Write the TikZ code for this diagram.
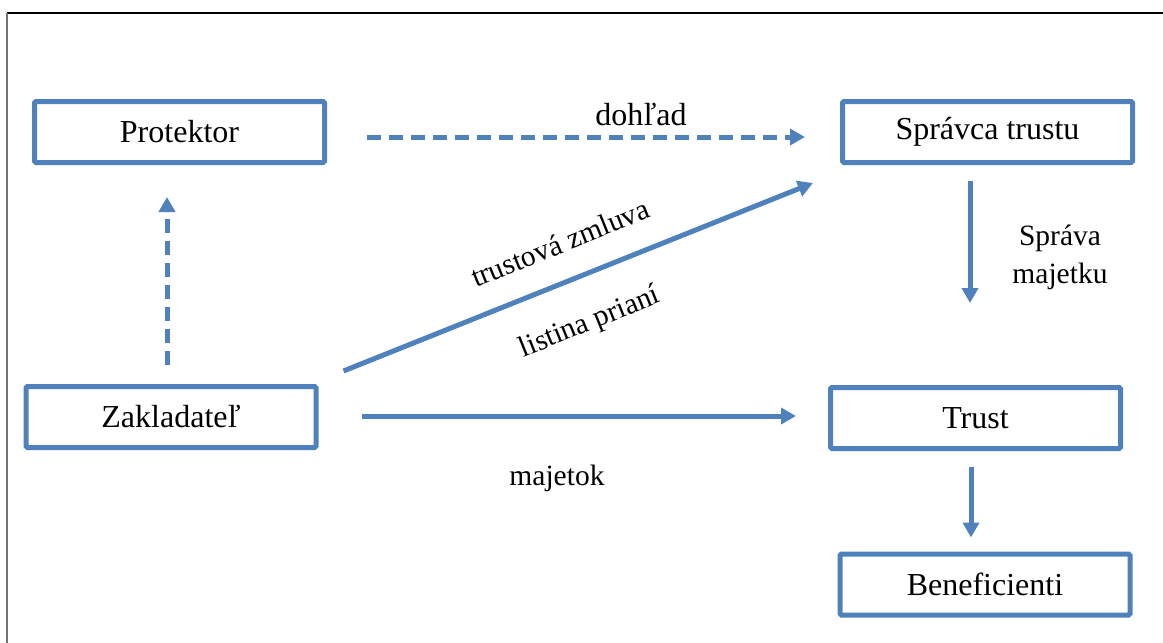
\documentclass[tikz,border=0pt]{standalone}
\usepackage{fontspec}
\setmainfont{Liberation Serif}
\usetikzlibrary{arrows.meta}
\definecolor{officeblue}{HTML}{4F81BD}
\tikzset{
  entity/.style={draw=officeblue, line width=5pt, rounded corners=1.5pt,
    minimum width=290pt, minimum height=61pt, inner sep=0pt,
    font=\fontsize{32}{36}\selectfont},
  flow/.style={draw=officeblue, line width=5pt,
    -{Triangle[length=15pt,width=16pt]}},
  flowdash/.style={flow, dash pattern=on 14pt off 8pt},
  lbl/.style={font=\fontsize{29.5}{38}\selectfont, inner sep=0pt, align=center}
}
\begin{document}
\begin{tikzpicture}[x=1pt, y=-1pt]
\useasboundingbox (0,0) rectangle (1163,643);
% page frame
\draw[black, line width=1.2pt] (7,13) -- (1163,13);
\draw[black!55, line width=1.6pt] (7,13) -- (7,643);

% parties
\node[entity] (prot) at (179.5,132) {Protektor};
\node[entity] (spr)  at (987.5,132) {Správca trustu};
\node[entity] (zak)  at (171,417) {Zakladateľ};
\node[entity] (trust) at (975.5,418) {Trust};
\node[entity] (ben)  at (985,584.5) {Beneficienti};

% relations
\draw[flowdash, shorten <=40pt, shorten >=35pt]
  ([yshift=-5pt]prot.east) -- ([yshift=-5pt]spr.west);
\draw[flowdash, shorten <=19pt, shorten >=32pt]
  ([xshift=-4pt]zak.north) -- ([xshift=-12.5pt]prot.south);
\draw[flow, shorten <=27pt, shorten >=27pt]
  ([yshift=3pt]zak.north east) -- ([yshift=-8pt,xshift=-2pt]spr.south west);
\draw[flow, shorten <=43pt, shorten >=32pt]
  ([yshift=1pt]zak.east) -- ([yshift=2pt]trust.west);
\draw[flow, shorten <=16pt, shorten >=82pt]
  ([xshift=-17.5pt]spr.south) -- ([xshift=-5.5pt]trust.north);
\draw[flow, shorten <=16pt, shorten >=14pt]
  ([xshift=-4.5pt]trust.south) -- ([xshift=-14pt]ben.north);

% labels
\node[lbl, font=\fontsize{32}{36}\selectfont] (lsup) at (641,115) {dohľad};
\node[lbl, rotate=22] (lcontract) at (560,243) {trustová zmluva};
\node[lbl, rotate=22] (lwish) at (590,323) {listina prianí};
\node[lbl] (lmanage) at (1060,257) {Správa\\majetku};
\node[lbl] (lasset) at (557,478) {majetok};
\end{tikzpicture}
\end{document}
